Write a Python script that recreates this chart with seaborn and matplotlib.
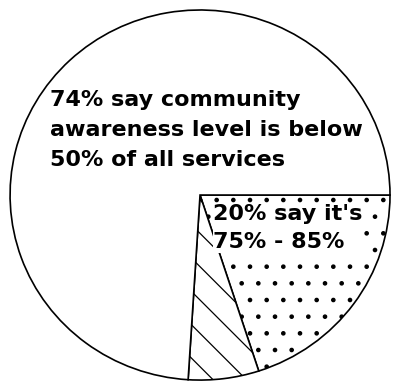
import matplotlib
matplotlib.use("Agg")
import matplotlib.pyplot as plt
import seaborn as sns

# ========= DATA =========
# order = clockwise from 3 o'clock
segments = ["75% - 85%", "other", "below 50%"]
shares = [20, 6, 74]
hatches = [".", "\\", ""]
label_main = "74% say community\nawareness level is below\n50% of all services"
label_small = "20% say it's\n75% - 85%"

sns.set_theme(style="white")
plt.rcParams["font.family"] = ["DejaVu Sans"]
plt.rcParams["hatch.linewidth"] = 0.9

fig = plt.figure(figsize=(3.94, 3.81), dpi=100)
ax = fig.add_axes([0, 0, 1, 1])

wedges, _ = ax.pie(
    shares, startangle=0, counterclock=False, colors=["white"] * 3,
    wedgeprops=dict(edgecolor="black", linewidth=1.2),
)
for w, h in zip(wedges, hatches):
    w.set_hatch(h)

ax.text(-0.79, 0.57, label_main, ha="left", va="top", fontsize=16,
        fontweight="bold", linespacing=1.65, color="black")
ax.text(0.07, -0.05, label_small, ha="left", va="top", fontsize=16,
        fontweight="bold", linespacing=1.5, color="black",
        bbox=dict(facecolor="white", edgecolor="none", pad=0.5))

# slightly squashed circle, bottom edge cropped like the scan
ax.set_xlim(-1.053, 1.021)
ax.set_ylim(-1.005, 1.054)
ax.set_aspect("auto")
ax.axis("off")

fig.savefig("out.png", dpi=100, facecolor="white")
